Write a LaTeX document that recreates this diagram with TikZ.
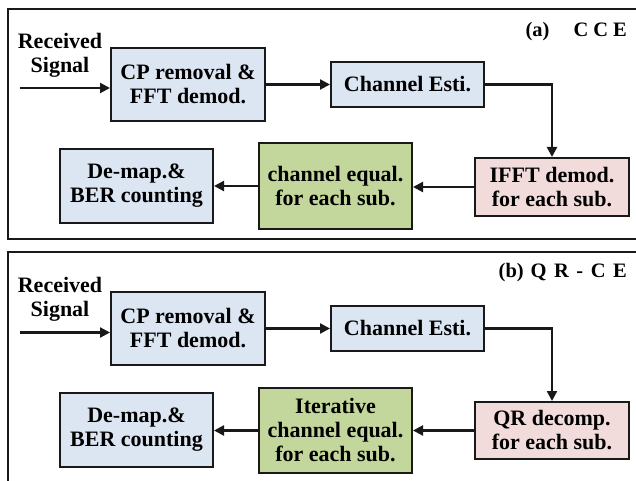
\documentclass[tikz,border=0pt]{standalone}
\usepackage{fontspec}
\setmainfont{Liberation Serif}
\usetikzlibrary{arrows.meta}
\definecolor{bbox}{RGB}{220,230,242}
\definecolor{pbox}{RGB}{242,220,219}
\definecolor{gbox}{RGB}{195,214,155}
\definecolor{edge}{RGB}{25,25,25}
\tikzset{
  blk/.style={draw=edge,line width=2bp,inner sep=0pt,align=center,
    font=\fontsize{22bp}{24bp}\selectfont\bfseries},
  bluebox/.style={blk,fill=bbox},
  pinkbox/.style={blk,fill=pbox},
  greenbox/.style={blk,fill=gbox},
  lbl/.style={inner sep=0pt,align=center,font=\fontsize{22bp}{24bp}\selectfont\bfseries},
  ttl/.style={inner sep=0pt,anchor=east,font=\fontsize{20.5bp}{22bp}\selectfont\bfseries},
  conn/.style={draw=edge,line width=2.2bp,-{Triangle[length=10bp,width=10bp]}},
  frm/.style={draw=edge,line width=2bp}
}
\newcommand{\ls}{\hspace{5bp}}
\newcommand{\lsb}{\hspace{7.5bp}}
\begin{document}
\begin{tikzpicture}[x=1bp,y=-1bp]
\clip (0,0) rectangle (636,481);
\fill[white] (0,0) rectangle (636,481);
% frames
\draw[frm] (8,9) rectangle (645,239);
\draw[frm] (8,252) rectangle (645,495);
% ---- panel (a)
\node[ttl] (ta) at (627,32) {(a)\hspace{24bp}C\ls C\ls E};
\node[lbl] (rsa) at (60,55) {Received\\Signal};
\coordinate (ina) at (20,88);
\node[bluebox,minimum width=154bp,minimum height=73bp] (cpa) at (188,84.5) {CP removal \&\\FFT demod.};
\node[bluebox,minimum width=153bp,minimum height=45bp] (cha) at (407.5,84.5) {Channel Esti.};
\node[pinkbox,minimum width=154bp,minimum height=58bp] (ifa) at (552,187) {IFFT demod.\\for each sub.};
\node[greenbox,minimum width=153bp,minimum height=86bp] (eqa) at (335.5,186) {channel equal.\\for each sub.};
\node[bluebox,minimum width=153bp,minimum height=74bp] (dma) at (136.5,186) {De-map.\&\\BER counting};
\draw[conn] (ina) -- (ina -| cpa.west);
\draw[conn] (cpa.east) -- (cha.west);
\draw[conn] (cha.east) -| (ifa.north);
\draw[conn] (ifa.west) -- (ifa.west -| eqa.east);
\draw[conn] (eqa.west) -- (eqa.west -| dma.east);
% ---- panel (b)
\node[ttl] (tb) at (627,273) {(b)\hspace{7bp}Q\lsb R\lsb -\lsb C\lsb E};
\node[lbl] (rsb) at (60,299) {Received\\Signal};
\coordinate (inb) at (20,332.5);
\node[bluebox,minimum width=154bp,minimum height=73bp] (cpb) at (188,328.5) {CP removal \&\\FFT demod.};
\node[bluebox,minimum width=153bp,minimum height=45bp] (chb) at (407.5,328.5) {Channel Esti.};
\node[pinkbox,minimum width=154bp,minimum height=57bp] (qrb) at (552,430.5) {QR decomp.\\for each sub.};
\node[greenbox,minimum width=153bp,minimum height=85bp] (eqb) at (335.5,430.5) {Iterative\\channel equal.\\for each sub.};
\node[bluebox,minimum width=153bp,minimum height=74bp] (dmb) at (136.5,430) {De-map.\&\\BER counting};
\draw[conn] (inb) -- (inb -| cpb.west);
\draw[conn] (cpb.east) -- (chb.west);
\draw[conn] (chb.east) -| (qrb.north);
\draw[conn] (qrb.west) -- (qrb.west -| eqb.east);
\draw[conn] (eqb.west) -- (eqb.west -| dmb.east);
\end{tikzpicture}
\end{document}
